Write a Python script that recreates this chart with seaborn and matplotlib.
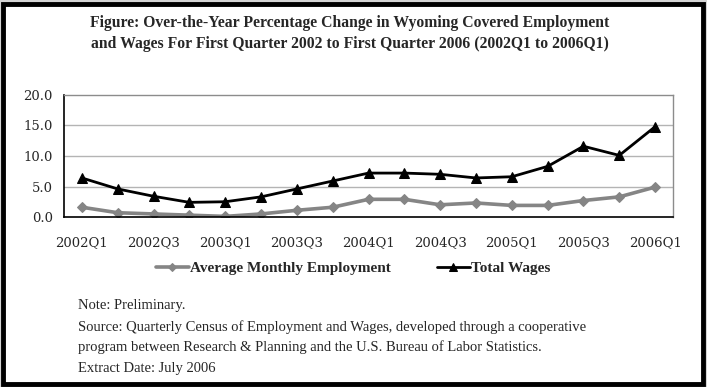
import matplotlib
matplotlib.use("Agg")
import matplotlib.pyplot as plt
import seaborn as sns
import pandas as pd
from matplotlib.patches import Rectangle

# -------------------- Data --------------------
quarters = ["2002Q1", "2002Q2", "2002Q3", "2002Q4",
            "2003Q1", "2003Q2", "2003Q3", "2003Q4",
            "2004Q1", "2004Q2", "2004Q3", "2004Q4",
            "2005Q1", "2005Q2", "2005Q3", "2005Q4",
            "2006Q1"]
employment = [1.6, 0.7, 0.5, 0.3, 0.1, 0.5, 1.1, 1.6,
              2.9, 2.9, 2.0, 2.3, 1.9, 1.9, 2.7, 3.3, 4.9]
wages = [6.4, 4.6, 3.4, 2.4, 2.5, 3.3, 4.6, 5.9,
         7.2, 7.2, 7.0, 6.4, 6.6, 8.3, 11.6, 10.1, 14.8]
y_ticks = [0, 5, 10, 15, 20]

title = ("Figure: Over-the-Year Percentage Change in Wyoming Covered Employment\n"
         "and Wages For First Quarter 2002 to First Quarter 2006 (2002Q1 to 2006Q1)")
notes = ["Note: Preliminary.",
         "Source: Quarterly Census of Employment and Wages, developed through a cooperative",
         "program between Research & Planning and the U.S. Bureau of Labor Statistics.",
         "Extract Date: July 2006"]

df = pd.DataFrame({"idx": range(len(quarters)), "Quarter": quarters,
                   "Employment": employment, "Wages": wages})

# -------------------- Figure --------------------
sns.set_style("white")
plt.rcParams["font.family"] = ["DejaVu Serif"]

W, H = 707, 387
fig = plt.figure(figsize=(W / 100, H / 100), dpi=100, facecolor="#d4d4d4")
frame = Rectangle((3 / W, 3 / H), 700 / W, 380 / H, transform=fig.transFigure,
                  facecolor="white", edgecolor="black", linewidth=3.5, zorder=-10)
fig.patches.append(frame)

ax = fig.add_axes([64 / W, (H - 217) / H, 609 / W, 122 / H])
ax.set_facecolor("white")
ax.set_zorder(1)

sns.lineplot(data=df, x="idx", y="Employment", ax=ax, color="#858585", linewidth=2.6,
             marker="D", markersize=5.5, markeredgecolor="#858585",
             label="Average Monthly Employment")
sns.lineplot(data=df, x="idx", y="Wages", ax=ax, color="black", linewidth=2,
             marker="^", markersize=7, markeredgecolor="black", label="Total Wages")

ax.set_xlim(-0.5, len(quarters) - 0.5)
ax.set_ylim(0, 20)
ax.set_yticks(y_ticks)
ax.set_yticklabels([f"{v:.1f}" for v in y_ticks], fontsize=9.5)
ax.set_xticks(range(0, len(quarters), 2))
ax.set_xticklabels(quarters[::2], fontsize=9.5)
ax.set_xticks([i - 0.5 for i in range(len(quarters) + 1)], minor=True)
ax.tick_params(axis="x", which="major", length=0, pad=14)
ax.tick_params(axis="x", which="minor", length=5, width=1, color="black", direction="out")
ax.tick_params(axis="y", length=4, width=1, color="black", direction="out", pad=4)
ax.set_xlabel("")
ax.set_ylabel("")

for v in y_ticks[1:-1]:
    ax.axhline(v, color="#b4b4b4", linewidth=1, zorder=0)
for s in ["top", "right"]:
    ax.spines[s].set_color("#8c8c8c")
    ax.spines[s].set_linewidth(1)
for s in ["left", "bottom"]:
    ax.spines[s].set_color("black")
    ax.spines[s].set_linewidth(1.2)

leg = ax.legend(loc="center", bbox_to_anchor=(353 / W, (H - 268) / H),
                bbox_transform=fig.transFigure, ncol=2, frameon=False,
                handlelength=2.2, handletextpad=0.05, columnspacing=3.0,
                markerscale=0.75,
                prop={"family": "Liberation Serif", "weight": "bold", "size": 11})

fig.text(350 / W, 1 - 33.5 / H, title, ha="center", va="center", fontsize=11.3,
         fontweight="bold", family="Liberation Serif", linespacing=1.4)

y0 = 306
for i, line in enumerate(notes):
    fig.text(78 / W, 1 - (y0 + i * 20.7) / H, line, ha="left", va="center",
             fontsize=10.5, family="Liberation Serif")

fig.savefig("out.png", dpi=100, facecolor=fig.get_facecolor())
